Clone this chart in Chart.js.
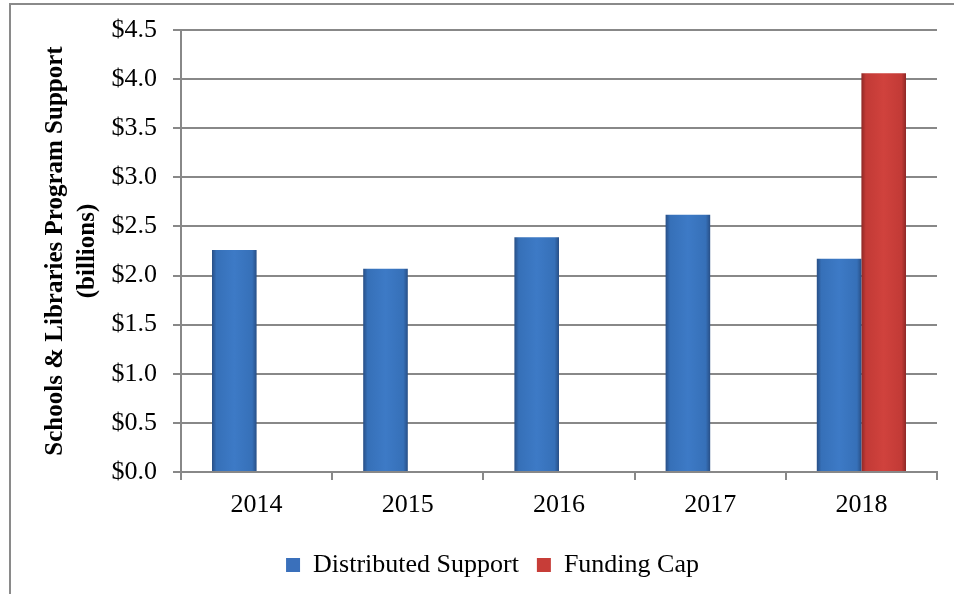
<!DOCTYPE html>
<html>
<head>
<meta charset="utf-8">
<script src="https://cdn.jsdelivr.net/npm/chart.js@4.4.1/dist/chart.umd.min.js"></script>
<style>
  html, body { margin: 0; padding: 0; background: #fff; overflow: hidden; }
  #frame { position: absolute; left: 9px; top: 3px; width: 1000px; height: 700px;
           border-left: 2px solid #8a8a8a; border-top: 2px solid #8a8a8a; }
  #myChart { position: absolute; left: 0; top: -27px; }
</style>
</head>
<body>
<div id="frame"></div>
<canvas id="myChart" width="954" height="621"></canvas>
<script>
const years = ['2014', '2015', '2016', '2017', '2018'];
const distributed = [2.26, 2.07, 2.39, 2.62, 2.17];
const fundingCap = [null, null, null, null, 4.06];
const yTicks = [0, 0.5, 1, 1.5, 2, 2.5, 3, 3.5, 4, 4.5];

const SERIF = "'Liberation Serif', 'Times New Roman', serif";
const GRID = '#888888';
const CAT_PCT = 0.59;

// shaded bar fill, edges darker like the bevel in the original
function barFill(base, mid, edge) {
    return function (ctx) {
        if (ctx.type !== 'data') return base;
        const chart = ctx.chart;
        const xs = chart.scales.x;
        if (!xs || !chart.chartArea) return base;
        const center = xs.getPixelForValue(ctx.dataIndex);
        const barW = xs.width / years.length * CAT_PCT / 2;
        const left = ctx.datasetIndex === 0 ? center - barW : center;
        const g = chart.ctx.createLinearGradient(left, 0, left + barW, 0);
        g.addColorStop(0, edge);
        g.addColorStop(0.1, mid);
        g.addColorStop(0.5, base);
        g.addColorStop(0.9, mid);
        g.addColorStop(1, edge);
        return g;
    };
}

// legend in the original sits a bit right of centre
const shiftLegend = {
    id: 'shiftLegend',
    afterLayout: function (chart) {
        chart.legend.left += 24;
        chart.legend.right += 24;
    }
};

const chartdata = {
    labels: years,
    datasets: [{
        label: 'Distributed Support',
        data: distributed,
        backgroundColor: barFill('#3d7ac6', '#3670b8', '#284f86'),
        legendColor: '#3a70bb'
    },
    {
        label: 'Funding Cap',
        data: fundingCap,
        backgroundColor: barFill('#d0423d', '#c23a36', '#8e2826'),
        legendColor: '#c73d38'
    }]
};

const config = {
    type: 'bar',
    data: chartdata,
    plugins: [shiftLegend],
    options: {
        responsive: false,
        animation: false,
        devicePixelRatio: 1,
        layout: { padding: { left: 0, right: 17, top: 0, bottom: 6 } },
        datasets: {
            bar: { categoryPercentage: CAT_PCT, barPercentage: 1.0, borderWidth: 0 }
        },
        scales: {
            x: {
                grid: { display: true, drawOnChartArea: false, drawTicks: true, tickLength: 8, color: GRID, lineWidth: 2 },
                border: { display: true, color: GRID, width: 2 },
                ticks: { color: '#000', padding: 10, font: { family: SERIF, size: 26 } },
                afterFit: function (s) { s.height = 62; }
            },
            y: {
                min: 0,
                max: 4.5,
                afterBuildTicks: function (s) { s.ticks = yTicks.map(v => ({ value: v })); },
                grid: { color: GRID, lineWidth: 2, tickLength: 8 },
                border: { display: true, color: GRID, width: 2 },
                ticks: {
                    color: '#000', padding: 16,
                    font: { family: SERIF, size: 26 },
                    callback: v => '$' + Number(v).toFixed(1)
                },
                title: {
                    display: true,
                    text: ['Schools & Libraries Program Support', '(billions)'],
                    color: '#000',
                    font: { family: SERIF, size: 25, weight: 'bold', lineHeight: 1.28 },
                    padding: { top: 40, bottom: 0 }
                },
                afterFit: function (s) { s.width = 181; }
            }
        },
        plugins: {
            title: {
                display: true,
                text: 'Schools & Libraries Program Support vs. Funding Cap',
                color: '#000',
                font: { family: SERIF, size: 26, weight: 'bold', lineHeight: 1.2 },
                padding: { top: 0, bottom: 25.8 }
            },
            legend: {
                position: 'bottom',
                labels: {
                    color: '#000',
                    boxWidth: 14,
                    boxHeight: 14,
                    padding: 18,
                    font: { family: SERIF, size: 26 },
                    generateLabels: function (chart) {
                        return chart.data.datasets.map((ds, i) => ({
                            text: ds.label,
                            fillStyle: ds.legendColor,
                            strokeStyle: ds.legendColor,
                            lineWidth: 0,
                            fontColor: '#000',
                            datasetIndex: i
                        }));
                    }
                }
            },
            tooltip: { enabled: false }
        }
    }
};

var myChart = new Chart(
    document.getElementById('myChart'),
    config
);
</script>
</body>
</html>
